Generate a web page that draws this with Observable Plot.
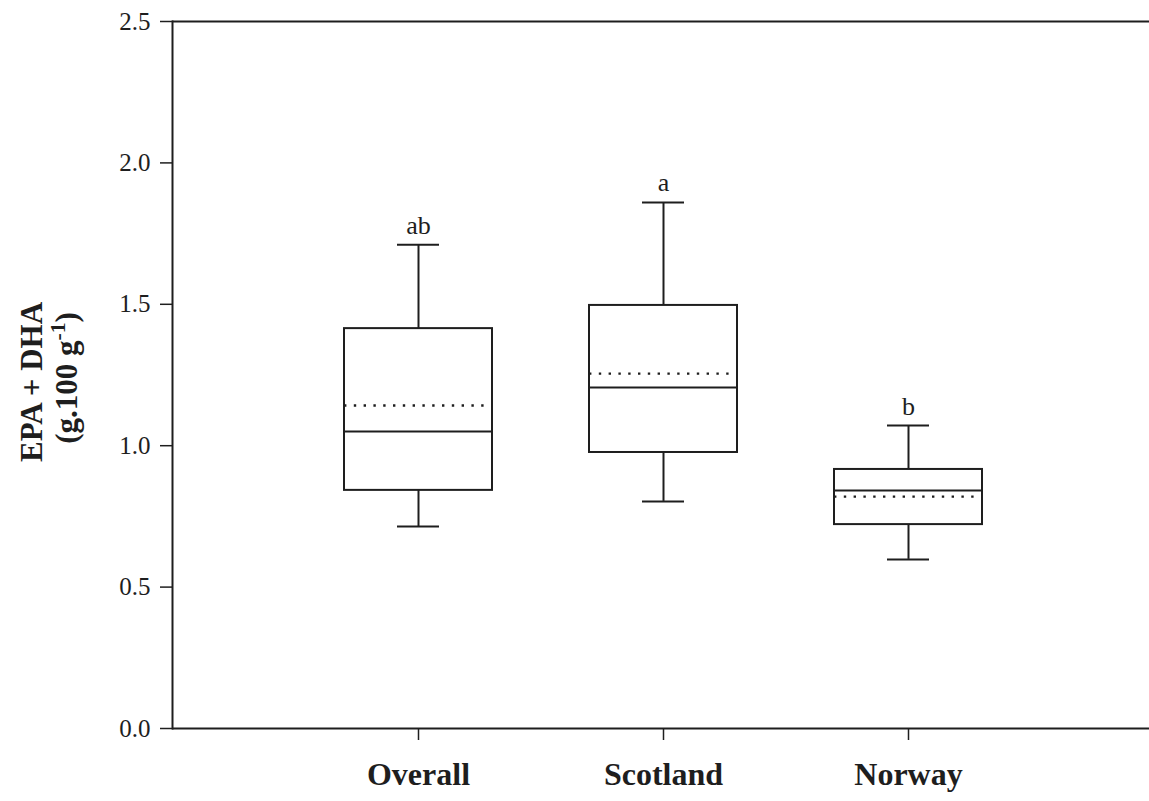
<!DOCTYPE html>
<html>
<head>
<meta charset="utf-8">
<script src="https://cdn.jsdelivr.net/npm/d3@7"></script>
<script src="https://cdn.jsdelivr.net/npm/@observablehq/plot@0.6"></script>
<style>
  html, body { margin: 0; padding: 0; background: #fff; }
  #chart svg { display: block; }
</style>
</head>
<body>
<div id="chart"></div>
<script>
const groups = ["Overall", "Scotland", "Norway"];
const whiskerLow = [0.714, 0.803, 0.598];
const q1 = [0.842, 0.976, 0.721];
const median = [1.050, 1.206, 0.842];
const mean = [1.142, 1.255, 0.820];
const q3 = [1.414, 1.496, 0.916];
const whiskerHigh = [1.711, 1.860, 1.071];
const letters = ["ab", "a", "b"];
const yTicks = [0, 0.5, 1.0, 1.5, 2.0, 2.5];
const yTitle1 = "EPA + DHA";
const yTitle2 = "(g.100 g-1)";

const data = groups.map((g, i) => ({
  group: g, lo: whiskerLow[i], q1: q1[i], med: median[i], mean: mean[i],
  q3: q3[i], hi: whiskerHigh[i], letter: letters[i]
}));

const ink = "#1e1e1e";

const chart = Plot.plot({
  width: 1149,
  height: 801,
  marginLeft: 172,
  marginRight: 0,
  marginTop: 21,
  marginBottom: 73,
  style: { fontFamily: "Liberation Serif", color: ink, background: "#fff" },
  x: { domain: groups, range: [172, 1153], paddingInner: 0.397, paddingOuter: 0.6965 },
  y: { domain: [0, 2.5] },
  marks: [
    Plot.ruleY([0, 2.5], { stroke: ink, strokeWidth: 2 }),
    Plot.frame({ anchor: "left", stroke: ink, strokeWidth: 2 }),
    Plot.axisY({ ticks: yTicks, tickFormat: d3.format(".1f"), tickSize: 12, tickPadding: 10,
      fontSize: 25, label: null, stroke: ink, strokeWidth: 1.5 }),
    Plot.axisX({ tickSize: 12, tickPadding: 22, fontSize: 32, fontWeight: "bold",
      label: null, stroke: ink, strokeWidth: 1.5 }),
    Plot.ruleX(data, { x: "group", y1: "lo", y2: "q1", stroke: ink, strokeWidth: 2 }),
    Plot.ruleX(data, { x: "group", y1: "q3", y2: "hi", stroke: ink, strokeWidth: 2 }),
    Plot.tickY(data, { x: "group", y: "lo", inset: 53, stroke: ink, strokeWidth: 2 }),
    Plot.tickY(data, { x: "group", y: "hi", inset: 53, stroke: ink, strokeWidth: 2 }),
    Plot.barY(data, { x: "group", y1: "q1", y2: "q3", fill: "none", stroke: ink, strokeWidth: 2 }),
    Plot.tickY(data, { x: "group", y: "med", stroke: ink, strokeWidth: 2 }),
    Plot.tickY(data, { x: "group", y: "mean", stroke: ink, strokeWidth: 2.4, strokeDasharray: "2.4,7.4" }),
    Plot.text(data, { x: "group", y: "hi", text: "letter", lineAnchor: "bottom", dy: -11,
      fontSize: 26, fill: ink }),
    Plot.text([yTitle1], { frameAnchor: "left", textAnchor: "middle", rotate: -90, dx: -140, dy: 7,
      fontSize: 31, fontWeight: "bold", fill: ink }),
    Plot.text([yTitle2], { frameAnchor: "left", textAnchor: "middle", rotate: -90, dx: -105, dy: 3,
      fontSize: 31, fontWeight: "bold", fill: ink })
  ]
});

document.getElementById("chart").appendChild(chart);

// superscript the exponent in the unit label
d3.select(chart).selectAll("text").each(function () {
  if (this.textContent === yTitle2) {
    const t = d3.select(this);
    t.text(null);
    t.append("tspan").text("(g.100 g");
    t.append("tspan").attr("baseline-shift", "super").attr("font-size", "70%").text("-1");
    t.append("tspan").text(")");
  }
});
</script>
</body>
</html>
